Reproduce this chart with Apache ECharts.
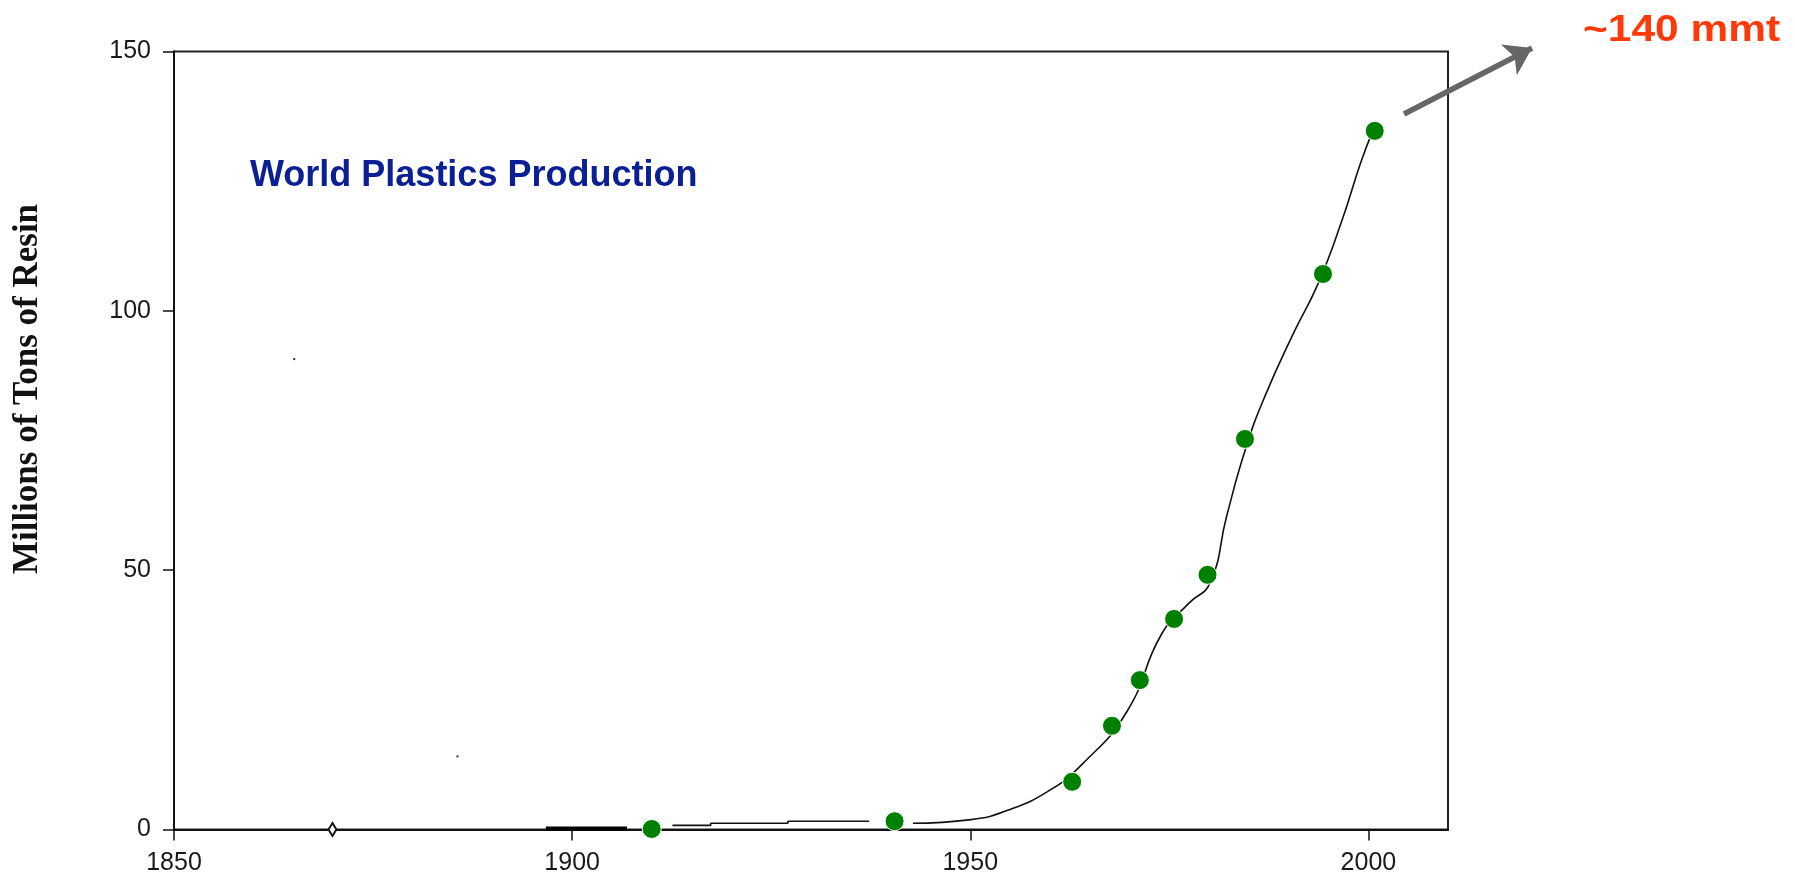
<!DOCTYPE html>
<html>
<head>
<meta charset="utf-8">
<title>World Plastics Production</title>
<script src="https://cdn.jsdelivr.net/npm/echarts@6/dist/echarts.min.js"></script>
<style>
  html, body { margin: 0; padding: 0; background: #fff; }
  #chart { width: 1795px; height: 879px; }
</style>
</head>
<body>
<div id="chart"></div>
<script>
// Axis ticks
const xTicks = [1850, 1900, 1950, 2000];
const yTicks = [0, 50, 100, 150];

// Surveyed production estimates (millions of tons of resin)
const pointYears = [1910, 1940.5, 1962.8, 1967.8, 1971.3, 1975.6, 1979.8, 1984.5, 1994.3, 2000.8];
const pointValues = [0.1, 1.6, 9.2, 20.0, 28.8, 40.6, 49.1, 75.3, 107.1, 134.7];

// Early, nearly flat stretch of the trend (stepped)
const earlyYears = [1912.6, 1917.4, 1927.1, 1937.3];
const earlyValues = [0.8, 1.2, 1.6, 1.6];

// Post-war growth trend
const trendYears = [1942.8, 1950.1, 1954.7, 1959.8, 1964.0, 1969.7, 1974.0, 1977.5, 1980.1,
  1982.2, 1984.6, 1987.0, 1990.6, 1993.7, 1996.7, 1999.0, 2000.5];
const trendValues = [1.2, 1.9, 3.7, 7.4, 12.5, 22.8, 37.6, 43.7, 47.5,
  60.4, 73.5, 83.5, 95.7, 105.3, 117.5, 128.4, 134.5];

// Short heavy segment near the origin around the turn of the century
const stubYears = [1896.7, 1906.9];
const stubValues = [0.2, 0.2];

// Isolated early reading
const earlyMarkYears = [1869.9];
const earlyMarkValues = [0];

// Small specks
const speckYears = [1865.1, 1885.6];
const speckValues = [90.7, 14.1];

const zip = (xs, ys) => xs.map((x, i) => [x, ys[i]]);

const chart = echarts.init(document.getElementById('chart'), null, { renderer: 'canvas' });

const tickFont = {
  fontFamily: '"Liberation Sans", Arial, sans-serif',
  fontSize: 25,
  color: '#1a1a1a'
};

chart.setOption({
  animation: false,
  backgroundColor: '#ffffff',
  grid: {
    left: 174, right: 347, top: 51.5, bottom: 49.5,
    show: true, borderColor: '#222', borderWidth: 2,
    backgroundColor: 'transparent',
    outerBoundsMode: 'none'
  },
  xAxis: {
    type: 'value', min: 1850, max: 2010, interval: 50,
    axisLine: { show: true, lineStyle: { color: '#111', width: 2 } },
    axisTick: { show: true, length: 11, customValues: xTicks, lineStyle: { color: '#111', width: 1.5 } },
    splitLine: { show: false },
    axisLabel: Object.assign({
      margin: 21,
      customValues: xTicks,
      formatter: v => String(v)
    }, tickFont)
  },
  yAxis: {
    type: 'value', min: 0, max: 150, interval: 50,
    axisLine: { show: true, lineStyle: { color: '#111', width: 2 } },
    axisTick: { show: true, length: 11, customValues: yTicks, lineStyle: { color: '#111', width: 1.5 } },
    splitLine: { show: false },
    axisLabel: Object.assign({
      margin: 23,
      customValues: yTicks,
      formatter: v => String(v)
    }, tickFont)
  },
  series: [
    {
      name: 'early trend', type: 'line', step: 'end',
      data: zip(earlyYears, earlyValues),
      symbol: 'none', lineStyle: { color: '#111', width: 1.6 }, z: 2
    },
    {
      name: 'trend', type: 'line', smooth: 0.5,
      data: zip(trendYears, trendValues),
      symbol: 'none', lineStyle: { color: '#111', width: 1.6 }, z: 2
    },
    {
      name: 'stub', type: 'line',
      data: zip(stubYears, stubValues),
      symbol: 'none', lineStyle: { color: '#000', width: 4 }, z: 2
    },
    {
      name: 'early reading', type: 'scatter',
      data: zip(earlyMarkYears, earlyMarkValues),
      symbol: 'emptyDiamond', symbolSize: [8, 13],
      itemStyle: { color: '#111', borderColor: '#111', borderWidth: 1.5, opacity: 1 }, z: 3
    },
    {
      name: 'specks', type: 'scatter',
      data: zip(speckYears, speckValues),
      symbol: 'rect', symbolSize: 2,
      itemStyle: { color: '#333', opacity: 1 }, z: 3
    },
    {
      name: 'World Plastics Production', type: 'scatter',
      data: zip(pointYears, pointValues),
      symbol: 'circle', symbolSize: 19,
      itemStyle: { color: '#008000', borderColor: '#fff', borderWidth: 1, opacity: 1 }, z: 4,
      markLine: {
        silent: true, animation: false,
        symbol: ['none', 'arrow'], symbolSize: [26, 26],
        label: { show: false },
        lineStyle: { color: '#666666', width: 5.5, type: 'solid', opacity: 1 },
        data: [[{ x: 1404, y: 114 }, { x: 1532, y: 48 }]]
      }
    }
  ],
  graphic: [
    {
      type: 'text', left: 250, top: 158,
      style: {
        text: 'World Plastics Production',
        fontFamily: '"Liberation Sans", Arial, sans-serif',
        fontWeight: 'bold', fontSize: 36, fill: '#0c2096'
      }
    },
    {
      type: 'text', x: 1583, y: 13, scaleX: 1.18,
      style: {
        text: '~140 mmt',
        fontFamily: '"Liberation Sans", Arial, sans-serif',
        fontWeight: 'bold', fontSize: 36, fill: '#ff3a0a'
      }
    },
    {
      type: 'text', x: 28, y: 389, rotation: Math.PI / 2,
      style: {
        text: 'Millions of Tons of Resin',
        fontFamily: '"Liberation Serif", "Times New Roman", serif',
        fontWeight: 'bold', fontSize: 35, fill: '#111',
        align: 'center', verticalAlign: 'middle'
      }
    }
  ]
});
</script>
</body>
</html>
